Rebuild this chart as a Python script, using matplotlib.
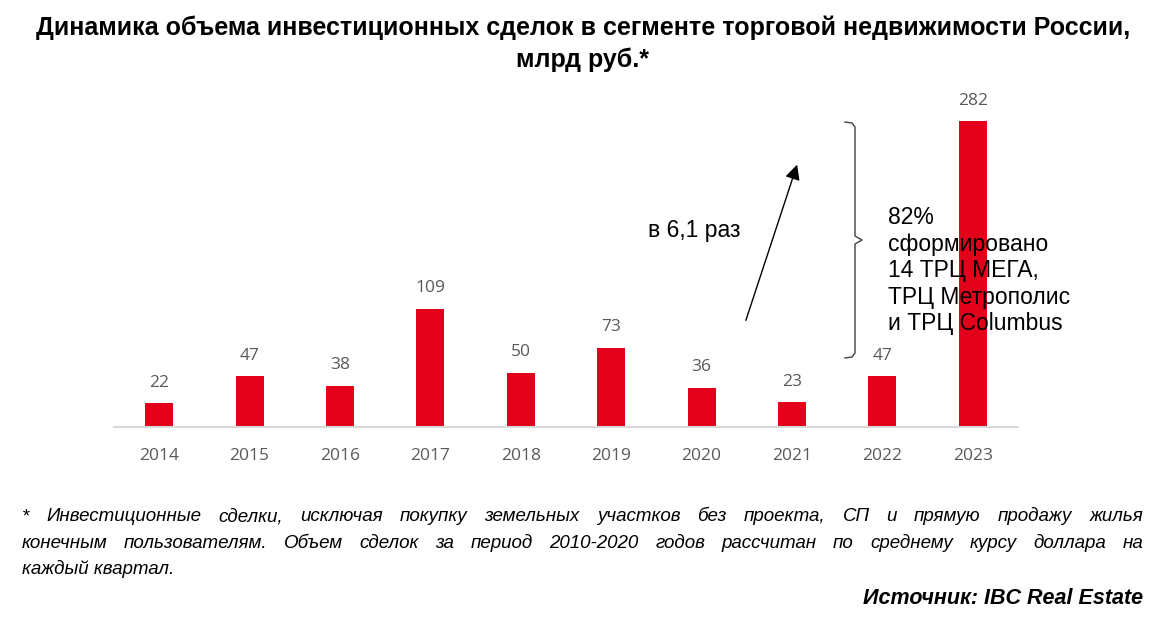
import matplotlib
matplotlib.use('Agg')
import matplotlib.pyplot as plt

# data
years = ['2014', '2015', '2016', '2017', '2018', '2019', '2020', '2021', '2022', '2023']
volumes = [22, 47, 38, 109, 50, 73, 36, 23, 47, 282]

title = 'Динамика объема инвестиционных сделок в сегменте торговой недвижимости России,\nмлрд руб.*'
growth_note = 'в 6,1 раз'
brace_note = '82%\nсформировано\n14 ТРЦ МЕГА,\nТРЦ Метрополис\nи ТРЦ Columbus'
footnote_lines = [
    '* Инвестиционные сделки, исключая покупку земельных участков без проекта, СП и прямую продажу жилья',
    'конечным пользователям. Объем сделок за период 2010-2020 годов рассчитан по среднему курсу доллара на',
    'каждый квартал.',
]
source = 'Источник: IBC Real Estate'

W, H = 1166, 630
fig = plt.figure(figsize=(W / 100, H / 100), dpi=100)

def px(x, y):
    # pixel position (from top-left) -> figure fraction
    return x / W, 1 - y / H

# axes placed in pixels: x 114..1018, baseline at y=427
ax = fig.add_axes([114 / W, (H - 427) / H, 904 / W, 325.5 / H])
xs = list(range(len(years)))
ax.bar(xs, volumes, width=0.31, color='#E2001A', zorder=2)
ax.set_xlim(-0.5, 9.5)
ax.set_ylim(0, 300)
for s in ['top', 'right', 'left']:
    ax.spines[s].set_visible(False)
ax.spines['bottom'].set_color('#d9d9d9')
ax.spines['bottom'].set_linewidth(1.5)
ax.set_yticks([])
ax.set_xticks(xs)
ax.set_xticklabels(years, fontsize=12.5, color='#595959', family='Open Sans')
ax.tick_params(axis='x', length=0, pad=15)
for x, v in zip(xs, volumes):
    ax.annotate(str(v), (x, v), xytext=(0, 9), textcoords='offset points',
                ha='center', va='bottom', fontsize=12.5, color='#595959', family='Open Sans')

fig.text(*px(583, 28), title.split('\n')[0], ha='center', va='center', fontsize=18,
         fontweight='bold', family='Liberation Sans')
fig.text(*px(583, 60), title.split('\n')[1], ha='center', va='center', fontsize=18,
         fontweight='bold', family='Liberation Sans')

# growth arrow
fig.text(*px(648, 231), growth_note, ha='left', va='center', fontsize=16.5, family='Liberation Sans')
fig.add_artist(matplotlib.patches.FancyArrowPatch(px(745, 323), px(798, 162), transform=fig.transFigure,
               arrowstyle='-|>,head_length=9,head_width=4.5', color='black', lw=1, mutation_scale=1))

# curly brace
bx = [845, 852, 855, 855, 862, 855, 855, 852, 845]
by = [122, 123, 127, 236, 240, 244, 353, 357, 358]
fig.add_artist(plt.Line2D([b / W for b in bx], [1 - b / H for b in by], transform=fig.transFigure,
               color='#404040', lw=1))
for i, line in enumerate(brace_note.split('\n')):
    fig.text(*px(888, 218 + i * 26.5), line, ha='left', va='center', fontsize=16.5,
             family='Liberation Sans', zorder=5)

# footnote, justified
fn_family = ['Liberation Sans Narrow', 'Liberation Sans']
fn_size = 13.5
fig.canvas.draw()
r = fig.canvas.get_renderer()
left, right = 22, 1143
for i, line in enumerate(footnote_lines):
    y = 521 + i * 26.5
    words = line.split(' ')
    if i == len(footnote_lines) - 1:
        fig.text(*px(left, y), line, ha='left', va='baseline', fontsize=fn_size,
                 style='italic', family=fn_family)
        continue
    arts = [fig.text(0, 0, w, ha='left', va='baseline', fontsize=fn_size, style='italic', family=fn_family)
            for w in words]
    widths = [a.get_window_extent(r).width for a in arts]
    gap = (right - left - sum(widths)) / (len(words) - 1)
    x = left
    for a, w in zip(arts, widths):
        a.set_position(px(x, y))
        x += w + gap

fig.text(*px(1143, 604), source, ha='right', va='baseline', fontsize=15.5,
         style='italic', fontweight='bold', family=fn_family)

fig.savefig('out.png', dpi=100, facecolor='white')
